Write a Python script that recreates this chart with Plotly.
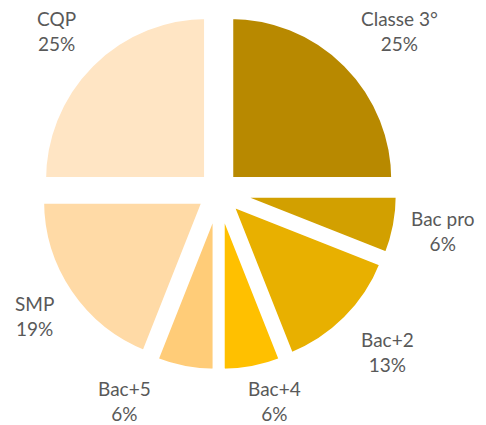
import math
import plotly.graph_objects as go

labels = ["Classe 3°", "Bac pro", "Bac+2", "Bac+4", "Bac+5", "SMP", "CQP"]
values = [25, 6, 13, 6, 6, 19, 25]
colors = ["#B88900", "#D2A000", "#E8B000", "#FFC000", "#FFCC78", "#FFDAA6", "#FFE5C4"]
PULL = 0.10

# layout (px, in page coordinates); the page body adds an 8px margin
BODY = 8
FW, FH = 486 - BODY, 425 - BODY
CX, CY, R = 218.65 - BODY, 191.6 - BODY, 164.0
half = R * (1 + PULL)

fig = go.Figure(go.Pie(
    labels=labels, values=values, sort=False, direction="clockwise", rotation=0,
    marker=dict(colors=colors, line=dict(width=6, color="white")),
    pull=[PULL] * len(values), textinfo="none", hoverinfo="label+percent",
    domain=dict(x=[(CX - half) / FW, (CX + half) / FW],
                y=[1 - (CY + half) / FH, 1 - (CY - half) / FH]),
    showlegend=False,
))

LABEL_NUDGE = {"Bac+5": -38}
total = sum(values)
cum = 0
anns = []
for lab, v in zip(labels, values):
    theta = math.radians((cum + v / 2) / total * 360)
    cum += v
    sx, sy = math.sin(theta), -math.cos(theta)
    ex, ey = CX + half * sx, CY + half * sy
    if abs(sx) > 0.3:
        xa = "left" if sx > 0 else "right"
        px = ex + 13 * (1 if sx > 0 else -1)
    else:
        xa = "left" if sx > 0 else "right"
        px = ex - 6 * (1 if sx > 0 else -1)
    px += LABEL_NUDGE.get(lab, 0)
    if sy > 0.3:
        ya = "top"
        py = ey + (6.5 if sy > 0.7 else -3)
    elif sy < -0.3:
        ya = "bottom"
        py = ey - 7
    else:
        ya = "middle"
        py = ey + 6
    anns.append(dict(x=px / FW, y=1 - py / FH, xref="paper", yref="paper",
                     text=f"{lab}<br>{round(v / total * 100)}%", showarrow=False,
                     xanchor=xa, yanchor=ya, align="center",
                     font=dict(family="Lato", size=19, color="#595959")))

fig.update_layout(width=FW, height=FH, margin=dict(l=0, r=0, t=0, b=0),
                  paper_bgcolor="white", plot_bgcolor="white", annotations=anns)
fig.write_html("out.html")
